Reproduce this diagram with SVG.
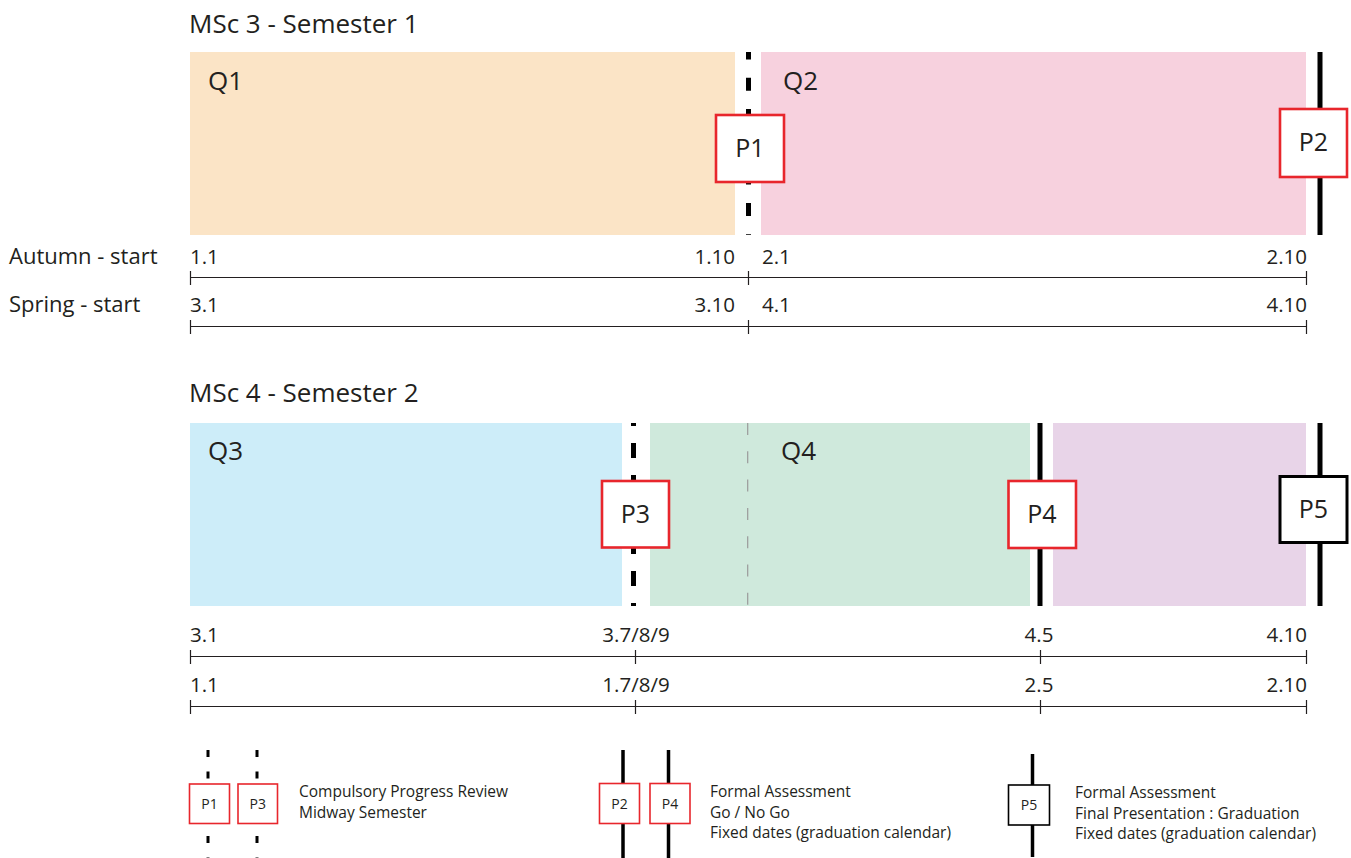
<svg xmlns="http://www.w3.org/2000/svg" width="1351" height="858" viewBox="0 0 1351 858">
<style>
text{font-family:"Open Sans","Noto Sans","Liberation Sans",sans-serif;fill:#231f20}
.title{font-size:26px}
.q{font-size:26px}
.p{font-size:25px;text-anchor:middle}
.lab{font-size:22px}
.num{font-size:20.5px}
.end{text-anchor:end}
.mid{text-anchor:middle}
.leg{font-size:15.5px}
.legp{font-size:14px;text-anchor:middle}
.axis{stroke:#231f20;stroke-width:1.2;fill:none}
.redbox{fill:#fff;stroke:#e8262c;stroke-width:2.6}
.redsm{fill:#fff;stroke:#e8262c;stroke-width:1.6}
.blkbox{fill:#fff;stroke:#000;stroke-width:3}
.blksm{fill:#fff;stroke:#000;stroke-width:1.6}
.solid{stroke:#000;stroke-width:5}
.dash{stroke:#000;stroke-width:5}
.solidsm{stroke:#000;stroke-width:3.5}
.dashsm{stroke:#000;stroke-width:3;stroke-dasharray:7 14.5}
.thin{stroke:#9a9a9a;stroke-width:1.2;stroke-dasharray:12 16.3}
</style>

<g id="title1"><text class="title" x="189" y="33">MSc 3 - Semester 1</text></g>
<g id="title2"><text class="title" x="189" y="402">MSc 4 - Semester 2</text></g>

<g id="Q1"><rect x="190" y="52" width="545" height="183" fill="#fbe4c6"/><text class="q" x="208" y="90">Q1</text></g>
<g id="Q2"><rect x="761" y="52" width="545" height="183" fill="#f7d1de"/><text class="q" x="783" y="90">Q2</text></g>
<g id="Q3"><rect x="190" y="423" width="432" height="183" fill="#cdedf9"/><text class="q" x="208" y="460">Q3</text></g>
<g id="Q4"><rect x="650" y="423" width="380" height="183" fill="#cfe9dc"/><text class="q" x="781" y="460">Q4</text></g>
<g id="Q5"><rect x="1053" y="423" width="253" height="183" fill="#e8d4e8"/></g>

<g id="connectors">
  <line class="dash" x1="748.5" y1="52" x2="748.5" y2="235" stroke-dasharray="13 18.3" stroke-dashoffset="5.6"/>
  <line class="solid" x1="1320" y1="52" x2="1320" y2="235"/>
  <line class="dash" x1="633.5" y1="423" x2="633.5" y2="606" stroke-dasharray="15 17" stroke-dashoffset="12"/>
  <line class="thin" x1="747.7" y1="423" x2="747.7" y2="606"/>
  <line class="solid" x1="1040" y1="423" x2="1040" y2="606"/>
  <line class="solid" x1="1320" y1="423" x2="1320" y2="606"/>
  <line class="dashsm" x1="208" y1="750" x2="208" y2="858"/>
  <line class="dashsm" x1="257" y1="750" x2="257" y2="858"/>
  <line class="solidsm" x1="623" y1="750" x2="623" y2="858"/>
  <line class="solidsm" x1="668.5" y1="750" x2="668.5" y2="858"/>
  <line class="solidsm" x1="1032.5" y1="754" x2="1032.5" y2="857"/>
</g>

<g id="P1"><rect class="redbox" x="716" y="115" width="68" height="67"/><text class="p" x="750" y="157">P1</text></g>
<g id="P2"><rect class="redbox" x="1280" y="109" width="67" height="68"/><text class="p" x="1313.5" y="151">P2</text></g>
<g id="P3"><rect class="redbox" x="602" y="481" width="67" height="66.5"/><text class="p" x="635.5" y="523">P3</text></g>
<g id="P4"><rect class="redbox" x="1008.5" y="481" width="67.5" height="67"/><text class="p" x="1042" y="523">P4</text></g>
<g id="P5"><rect class="blkbox" x="1280" y="476.5" width="67" height="66"/><text class="p" x="1313.5" y="518">P5</text></g>

<g id="axis-autumn">
  <text class="lab" x="9" y="264">Autumn - start</text>
  <text class="num" x="190" y="264">1.1</text>
  <text class="num end" x="735" y="264">1.10</text>
  <text class="num" x="762" y="264">2.1</text>
  <text class="num end" x="1307" y="264">2.10</text>
  <path class="axis" d="M190.5 277.5H1306.5M190.5 271V285M748.5 271V285M1306.5 271V285"/>
</g>
<g id="axis-spring">
  <text class="lab" x="9" y="312">Spring - start</text>
  <text class="num" x="190" y="312">3.1</text>
  <text class="num end" x="735" y="312">3.10</text>
  <text class="num" x="762" y="312">4.1</text>
  <text class="num end" x="1307" y="312">4.10</text>
  <path class="axis" d="M190.5 326.5H1306.5M190.5 320V334M748.5 320V334M1306.5 320V334"/>
</g>
<g id="axis-s2-spring">
  <text class="num" x="190" y="642">3.1</text>
  <text class="num mid" x="636" y="642">3.7/8/9</text>
  <text class="num mid" x="1039" y="642">4.5</text>
  <text class="num end" x="1307" y="642">4.10</text>
  <path class="axis" d="M190.5 656.5H1306.5M190.5 650V664M635.5 650V664M1040.5 650V664M1306.5 650V664"/>
</g>
<g id="axis-s2-autumn">
  <text class="num" x="190" y="692">1.1</text>
  <text class="num mid" x="636" y="692">1.7/8/9</text>
  <text class="num mid" x="1039" y="692">2.5</text>
  <text class="num end" x="1307" y="692">2.10</text>
  <path class="axis" d="M190.5 706.5H1306.5M190.5 700V714M635.5 700V714M1040.5 700V714M1306.5 700V714"/>
</g>

<g id="legend-p1"><rect class="redsm" x="189.5" y="784" width="40" height="39.5"/><text class="legp" x="209.5" y="809">P1</text></g>
<g id="legend-p3"><rect class="redsm" x="238" y="784" width="39.5" height="39.5"/><text class="legp" x="257.8" y="809">P3</text></g>
<g id="legend-text1">
  <text class="leg" x="299" y="797">Compulsory Progress Review</text>
  <text class="leg" x="299" y="818">Midway Semester</text>
</g>
<g id="legend-p2"><rect class="redsm" x="599.5" y="783.5" width="40" height="40"/><text class="legp" x="619.5" y="808.5">P2</text></g>
<g id="legend-p4"><rect class="redsm" x="650" y="783.5" width="40" height="40"/><text class="legp" x="670" y="808.5">P4</text></g>
<g id="legend-text2">
  <text class="leg" x="710" y="797">Formal Assessment</text>
  <text class="leg" x="710" y="818">Go / No Go</text>
  <text class="leg" x="710" y="838">Fixed dates (graduation calendar)</text>
</g>
<g id="legend-p5"><rect class="blksm" x="1008.5" y="785" width="41" height="40"/><text class="legp" x="1029" y="810">P5</text></g>
<g id="legend-text3">
  <text class="leg" x="1075" y="798">Formal Assessment</text>
  <text class="leg" x="1075" y="819">Final Presentation : Graduation</text>
  <text class="leg" x="1075" y="839">Fixed dates (graduation calendar)</text>
</g>
</svg>
